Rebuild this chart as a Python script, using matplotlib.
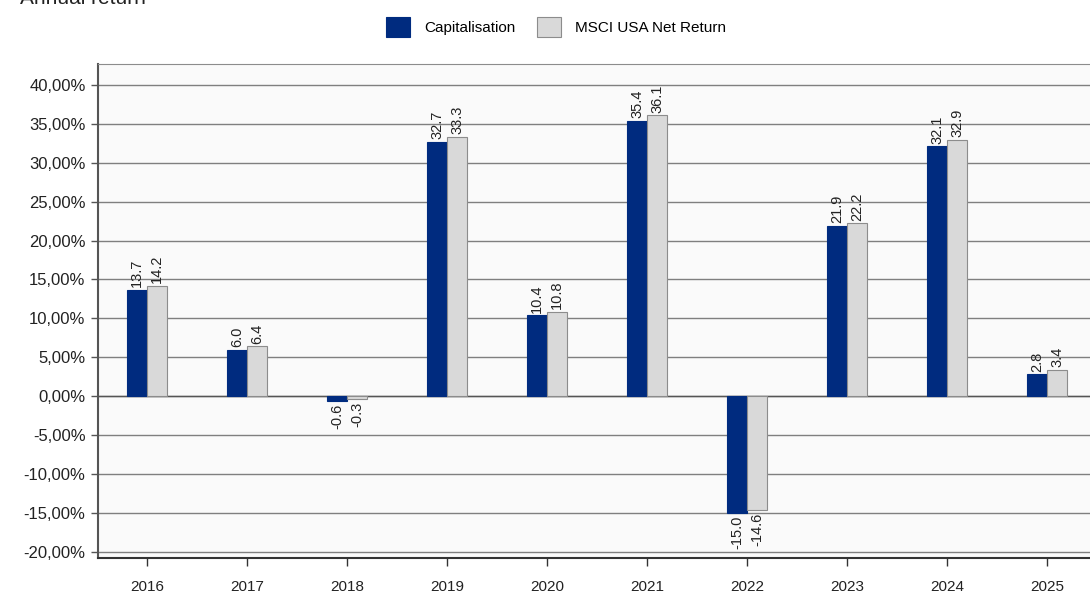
import matplotlib.pyplot as plt
import numpy as np
from matplotlib.ticker import FuncFormatter

years = ['2016', '2017', '2018', '2019', '2020', '2021', '2022', '2023', '2024', '2025']
capitalisation = [13.7, 6.0, -0.6, 32.7, 10.4, 35.4, -15.0, 21.9, 32.1, 2.8]
msci_usa = [14.2, 6.4, -0.3, 33.3, 10.8, 36.1, -14.6, 22.2, 32.9, 3.4]
y_ticks = [40, 35, 30, 25, 20, 15, 10, 5, 0, -5, -10, -15, -20]

plt.rcParams['font.family'] = ['Liberation Sans', 'DejaVu Sans']

fig = plt.figure(figsize=(10.9, 5.95), dpi=100)
# axes runs past the right edge, like the cropped original
ax = fig.add_axes([98 / 1090, 1 - 558 / 595, 999 / 1090, (558 - 64) / 595])
ax.set_facecolor('#fafafa')

x = np.arange(len(years))
w = 0.2
b1 = ax.bar(x - w / 2, capitalisation, w, color='#002b7f', edgecolor='#002b7f',
            linewidth=0.8, label='Capitalisation', zorder=3)
b2 = ax.bar(x + w / 2, msci_usa, w, color='#d9d9d9', edgecolor='#8c8c8c',
            linewidth=0.8, label='MSCI USA Net Return', zorder=3)

for bars, vals in [(b1, capitalisation), (b2, msci_usa)]:
    for rect, v in zip(bars, vals):
        cx = rect.get_x() + rect.get_width() / 2
        if v >= 0:
            ax.annotate(f'{v:.1f}', (cx, v), xytext=(0, 2), textcoords='offset points',
                        rotation=90, ha='center', va='bottom', fontsize=10.5, color='#222222')
        else:
            ax.annotate(f'{v:.1f}', (cx, v), xytext=(0, -2), textcoords='offset points',
                        rotation=90, ha='center', va='top', fontsize=10.5, color='#222222')

ax.set_xlim(-0.49, 9.5)
ax.set_ylim(-20.8, 42.7)
ax.set_yticks(y_ticks)
ax.yaxis.set_major_formatter(FuncFormatter(lambda v, p: f'{v:.2f}%'.replace('.', ',')))
ax.set_xticks(x)
ax.set_xticklabels(years)
ax.grid(axis='y', color='#7f7f7f', linewidth=1.0, zorder=0)
ax.axhline(0, color='#555555', linewidth=1.0, zorder=2)

for s in ['top', 'right']:
    ax.spines[s].set_color('#8c8c8c')
ax.spines['left'].set_color('#555555')
ax.spines['bottom'].set_color('#333333')
ax.spines['left'].set_linewidth(1.5)
ax.spines['bottom'].set_linewidth(1.5)
ax.tick_params(axis='y', length=5, width=1, colors='#555555', labelcolor='#222222',
               labelsize=12, pad=4)
ax.tick_params(axis='x', length=6, width=1, colors='#333333', labelcolor='#222222',
               labelsize=11, pad=10)

fig.legend(handles=[b1, b2], loc='center', bbox_to_anchor=(0.51, 1 - 27 / 595),
           ncol=2, frameon=False, fontsize=11, handlelength=1.6, handleheight=1.6,
           columnspacing=1.4, handletextpad=0.9)

fig.text(20 / 1090, 1 + 2 / 595, 'Annual return', ha='left', va='center',
         fontsize=15, color='#222222')

fig.savefig('out.png', dpi=100)
